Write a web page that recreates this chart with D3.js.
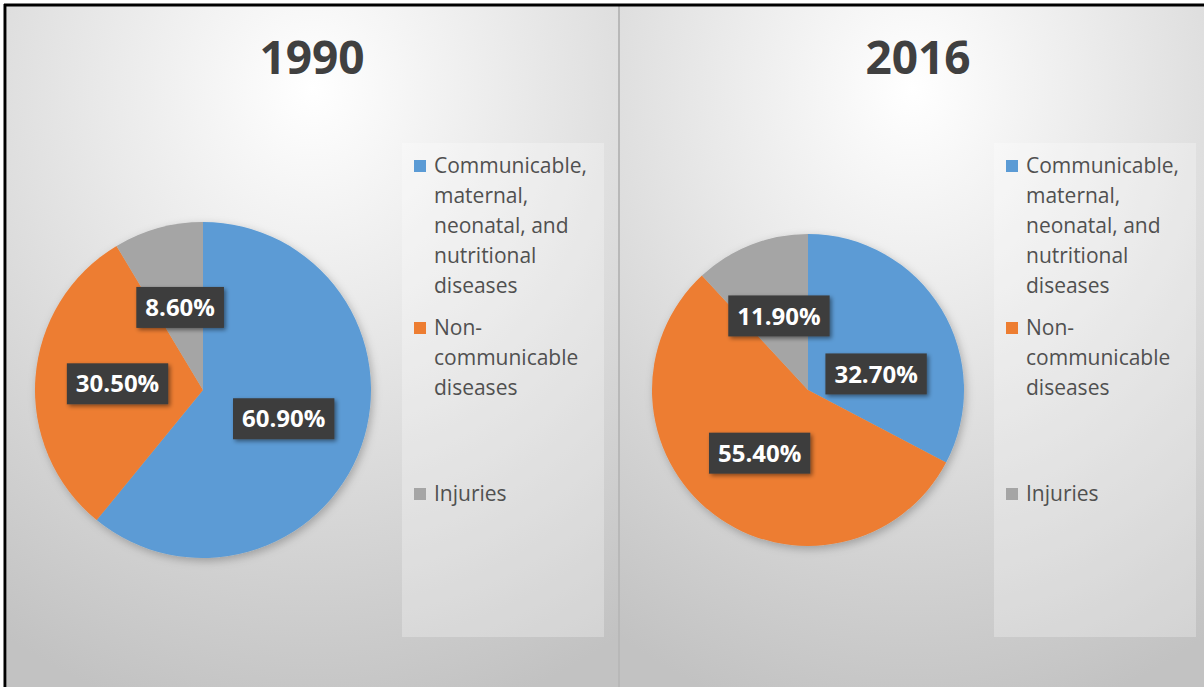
<!DOCTYPE html>
<html>
<head>
<meta charset="utf-8">
<script src="https://cdn.jsdelivr.net/npm/d3@7"></script>
<style>
  body { margin: 0; background: #fff; }
  svg { display: block; }
</style>
</head>
<body>
<svg id="chart"></svg>
<script>
// data
const categories = ["Communicable, maternal, neonatal, and nutritional diseases", "Non-communicable diseases", "Injuries"];
const legendLines = [
    ["Communicable,", "maternal,", "neonatal, and", "nutritional", "diseases"],
    ["Non-", "communicable", "diseases"],
    ["Injuries"]
];
const years = ["1990", "2016"];
const values1990 = [60.9, 30.5, 8.6];
const values2016 = [32.7, 55.4, 11.9];
const colors = ["#5B9BD5", "#ED7D31", "#A5A5A5"];

const W = 1204, H = 687;
const svg = d3.select("#chart").attr("width", W).attr("height", H);
const defs = svg.append("defs");

const grad = defs.append("radialGradient")
    .attr("id", "bg").attr("cx", "50%").attr("cy", "12%").attr("r", "95%")
    .attr("fx", "50%").attr("fy", "12%");
grad.append("stop").attr("offset", "0%").attr("stop-color", "#ffffff");
grad.append("stop").attr("offset", "35%").attr("stop-color", "#eaeaea");
grad.append("stop").attr("offset", "100%").attr("stop-color", "#c2c2c2");

const shadow = defs.append("filter").attr("id", "shadow")
    .attr("x", "-20%").attr("y", "-20%").attr("width", "140%").attr("height", "140%");
shadow.append("feDropShadow").attr("dx", 2).attr("dy", 3).attr("stdDeviation", 4)
    .attr("flood-color", "#000").attr("flood-opacity", 0.25);

const boxShadow = defs.append("filter").attr("id", "boxShadow")
    .attr("x", "-20%").attr("y", "-30%").attr("width", "150%").attr("height", "170%");
boxShadow.append("feDropShadow").attr("dx", 2).attr("dy", 2).attr("stdDeviation", 2)
    .attr("flood-color", "#000").attr("flood-opacity", 0.45);

// panel layout
const panels = [
    { year: years[0], values: values1990, x0: 7, x1: 618, cx: 203, cy: 390, r: 168, titleX: 312, legendX: 402 },
    { year: years[1], values: values2016, x0: 620, x1: 1204, cx: 808, cy: 390, r: 156, titleX: 918, legendX: 994 }
];
const legendTop = 143, legendW = 202, legendH = 494;
const itemOffsets = [0, 162, 328];
const lineH = 30;
const boxH = 41, boxGap = 17;

svg.append("rect").attr("width", W).attr("height", H).attr("fill", "#ffffff");

panels.forEach(p => {
    const g = svg.append("g");

    g.append("rect")
        .attr("x", p.x0).attr("y", 6)
        .attr("width", p.x1 - p.x0).attr("height", H - 6)
        .attr("fill", "url(#bg)");

    g.append("text")
        .attr("x", p.titleX).attr("y", 74)
        .attr("text-anchor", "middle")
        .style("font-family", "'Open Sans', sans-serif")
        .style("font-size", "46px")
        .style("font-weight", "bold")
        .style("fill", "#404040")
        .text(p.year);

    const pie = d3.pie().sort(null).value(d => d);
    const arcs = pie(p.values);
    const arc = d3.arc().innerRadius(0).outerRadius(p.r);
    const labelArc = d3.arc().innerRadius(p.r * 0.51).outerRadius(p.r * 0.51);

    const pg = g.append("g").attr("transform", `translate(${p.cx},${p.cy})`);
    pg.append("g").attr("filter", "url(#shadow)")
        .selectAll("path")
        .data(arcs)
        .enter().append("path")
        .attr("d", arc)
        .attr("fill", (d, i) => colors[i]);

    const lbl = pg.selectAll(".lbl")
        .data(arcs)
        .enter().append("g")
        .attr("class", "lbl");

    const boxes = [];
    lbl.each(function (d) {
        const sel = d3.select(this);
        const rect = sel.append("rect").attr("fill", "#3d3d3d").attr("filter", "url(#boxShadow)");
        const t = sel.append("text")
            .attr("text-anchor", "middle")
            .attr("dy", "0.36em")
            .style("font-family", "'Open Sans', sans-serif")
            .style("font-size", "24px")
            .style("font-weight", "bold")
            .style("fill", "#ffffff")
            .text(d3.format(".2f")(d.data) + "%");
        const w = t.node().getComputedTextLength() + 18;
        rect.attr("x", -w / 2).attr("y", -boxH / 2).attr("width", w).attr("height", boxH);
        const [x, y] = labelArc.centroid(d);
        boxes.push({ sel, x, y, w });
    });

    // resolve overlaps: later slices keep their spot, earlier ones move away vertically
    for (let i = boxes.length - 1; i >= 0; i--) {
        const b = boxes[i];
        for (let j = boxes.length - 1; j > i; j--) {
            const o = boxes[j];
            const overlapX = Math.abs(b.x - o.x) < (b.w + o.w) / 2;
            const overlapY = Math.abs(b.y - o.y) < boxH;
            if (overlapX && overlapY) {
                b.y = b.y >= o.y ? o.y + boxH + boxGap : o.y - boxH - boxGap;
            }
        }
        b.sel.attr("transform", `translate(${b.x},${b.y})`);
    }

    // legend
    const lg = g.append("g").attr("transform", `translate(${p.legendX},${legendTop})`);
    lg.append("rect")
        .attr("width", legendW).attr("height", legendH)
        .attr("fill", "#ffffff").attr("fill-opacity", 0.28);

    categories.forEach((c, i) => {
        const item = lg.append("g").attr("transform", `translate(12,${30 + itemOffsets[i]})`);
        item.append("rect")
            .attr("x", 0).attr("y", -13)
            .attr("width", 12).attr("height", 12)
            .attr("fill", colors[i]);
        item.append("text")
            .attr("x", 20)
            .style("font-family", "'Open Sans', sans-serif")
            .style("font-size", "21px")
            .style("fill", "#505050")
            .selectAll("tspan")
            .data(legendLines[i])
            .enter().append("tspan")
            .attr("x", 20)
            .attr("y", (d, j) => j * lineH)
            .text(d => d);
    });
});

// divider and outer frame
svg.append("line").attr("x1", 619).attr("x2", 619).attr("y1", 6).attr("y2", H)
    .attr("stroke", "#b8b8b8").attr("stroke-width", 2);
svg.append("line").attr("x1", 4).attr("x2", W).attr("y1", 5).attr("y2", 5)
    .attr("stroke", "#000").attr("stroke-width", 3);
svg.append("line").attr("x1", 5).attr("x2", 5).attr("y1", 4).attr("y2", H)
    .attr("stroke", "#000").attr("stroke-width", 3);
</script>
</body>
</html>
